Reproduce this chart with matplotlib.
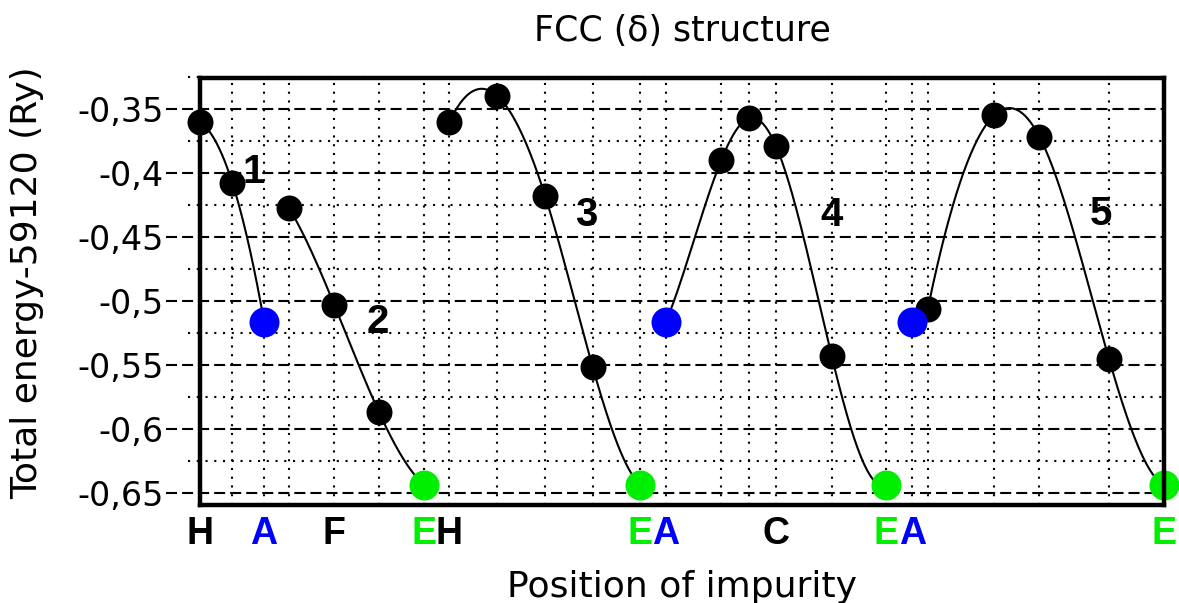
import numpy as np
import matplotlib
matplotlib.use("Agg")
import matplotlib.pyplot as plt
from matplotlib.transforms import ScaledTranslation

# position along the path (arbitrary units) and total energy (Ry, offset by 59120)
c1_x = [0.0, 1.34, 2.66]
c1_y = [-0.3602, -0.4074, -0.5162]
c2_x = [3.70, 5.57, 7.43, 9.31]
c2_y = [-0.4275, -0.5029, -0.5871, -0.6440]
c3_x = [10.34, 12.34, 14.32, 16.29, 18.27]
c3_y = [-0.3602, -0.3396, -0.4178, -0.5514, -0.6440]
c4_x = [19.34, 21.63, 22.78, 23.90, 26.21, 28.46]
c4_y = [-0.5162, -0.3897, -0.3570, -0.3787, -0.5430, -0.6440]
c5_x = [30.20, 32.96, 34.83, 37.72, 40.0]
c5_y = [-0.5060, -0.3545, -0.3714, -0.5454, -0.6440]

# special positions: A (blue) and E (green)
a_x = [2.66, 19.34, 29.56]
a_y = [-0.5162, -0.5162, -0.5162]
e_x = [9.31, 18.27, 28.46, 40.0]
e_y = [-0.6440, -0.6440, -0.6440, -0.6440]

# x axis labels
tick_pos = [0.0, 2.66, 5.57, 9.31, 10.34, 18.27, 19.34, 23.90, 28.46, 29.56, 40.0]
tick_lab = ["H", "A", "F", "E", "H", "E", "A", "C", "E", "A", "E"]
tick_col = ["black", "blue", "black", "#00ee00", "black", "#00ee00", "blue",
            "black", "#00ee00", "blue", "#00ee00"]

ytick_pos = [-0.35, -0.4, -0.45, -0.5, -0.55, -0.6, -0.65]
ytick_lab = ["-0,35", "-0,4", "-0,45", "-0,5", "-0,55", "-0,6", "-0,65"]
yminor_pos = [-0.325, -0.375, -0.425, -0.475, -0.525, -0.575, -0.625]

# segment labels
seg_lab = ["1", "2", "3", "4", "5"]
seg_x = [2.21, 7.37, 16.02, 26.21, 37.38]
seg_y = [-0.3988, -0.5162, -0.4328, -0.4328, -0.4317]

GREEN = "#00ee00"


def spline(x, y, n=200):
    # cubic spline (not-a-knot ends) through the points, for the smooth line
    x = np.asarray(x, float)
    y = np.asarray(y, float)
    m = len(x)
    h = np.diff(x)
    A = np.zeros((m, m))
    r = np.zeros(m)
    for i in range(1, m - 1):
        A[i, i - 1] = h[i - 1]
        A[i, i] = 2 * (h[i - 1] + h[i])
        A[i, i + 1] = h[i]
        r[i] = 6 * ((y[i + 1] - y[i]) / h[i] - (y[i] - y[i - 1]) / h[i - 1])
    if m == 3:
        A[0, :] = [1, -1, 0]
        A[2, :] = [0, 1, -1]
    else:
        A[0, 0:3] = [h[1], -(h[0] + h[1]), h[0]]
        A[-1, -3:] = [h[-1], -(h[-2] + h[-1]), h[-2]]
    M = np.linalg.solve(A, r)
    xs = np.linspace(x[0], x[-1], n)
    k = np.clip(np.searchsorted(x, xs) - 1, 0, m - 2)
    t0 = x[k + 1] - xs
    t1 = xs - x[k]
    hk = h[k]
    ys = (M[k] * t0**3 + M[k + 1] * t1**3) / (6 * hk) \
        + (y[k] / hk - M[k] * hk / 6) * t0 + (y[k + 1] / hk - M[k + 1] * hk / 6) * t1
    return xs, ys


fig = plt.figure(figsize=(11.79, 6.03), dpi=100)
ax = fig.add_axes([200 / 1179, 98 / 603, 964 / 1179, 427 / 603])
ax.set_xlim(0, 40)
ax.set_ylim(-0.6596, -0.3255)

# grid: dashed at major, dotted at minor, extended a bit to the left
for yv in ytick_pos:
    ax.axhline(yv, xmin=-0.035, xmax=1, color="black", lw=1.5,
               ls=(0, (5.3, 2.4)), clip_on=False, zorder=1)
for yv in yminor_pos:
    ax.axhline(yv, xmin=-0.012, xmax=1, color="black", lw=1.5,
               ls=(0, (1, 3.2)), clip_on=False, zorder=1)

all_x = np.unique(np.concatenate([c1_x, c2_x, c3_x, c4_x, c5_x, a_x, e_x]))
for xv in all_x:
    if 0 < xv < 40:
        ax.axvline(xv, color="black", lw=1.5, ls=(0, (1, 3.2)), zorder=1)

# curves
curves = [(c1_x, c1_y), (c2_x, c2_y), (c3_x, c3_y), (c4_x, c4_y), (c5_x, c5_y)]
for cx, cy in curves:
    xs, ys = spline(cx, cy)
    ax.plot(xs, ys, color="black", lw=1.5, zorder=3, clip_on=False)
    cx = np.asarray(cx)
    cy = np.asarray(cy)
    black = ~np.isin(cx, a_x) & ~np.isin(cx, e_x)
    ax.plot(cx[black], cy[black], "o", color="black", ms=18.7, mew=0,
            zorder=4, clip_on=False)

ax.plot(a_x, a_y, "o", color="blue", ms=21.6, mew=0, zorder=5, clip_on=False)
ax.plot(e_x, e_y, "o", color=GREEN, ms=21.6, mew=0, zorder=5, clip_on=False)

for s, sx, sy in zip(seg_lab, seg_x, seg_y):
    ax.text(sx, sy, s, fontsize=29, fontweight="bold", family="Liberation Sans",
            ha="center", va="center", zorder=6)

# axes styling
for sp in ax.spines.values():
    sp.set_linewidth(3.2)
    sp.set_zorder(6)

ax.set_xticks(tick_pos)
ax.set_xticklabels(tick_lab, fontsize=27, fontweight="bold", family="Liberation Sans")
labels = ax.get_xticklabels()
for i, (lab, c) in enumerate(zip(labels, tick_col)):
    lab.set_color(c)
    # nudge labels of neighbouring ticks apart a little (EH, EA pairs)
    if i + 1 < len(tick_pos) and tick_pos[i + 1] - tick_pos[i] < 1.5:
        lab.set_transform(lab.get_transform() + ScaledTranslation(-1.5 / 100, 0, fig.dpi_scale_trans))
    elif i > 0 and tick_pos[i] - tick_pos[i - 1] < 1.5:
        lab.set_transform(lab.get_transform() + ScaledTranslation(2.5 / 100, 0, fig.dpi_scale_trans))
ax.set_yticks(ytick_pos)
ax.set_yticklabels(ytick_lab, fontsize=24, family="DejaVu Sans")
ax.tick_params(axis="x", length=0, pad=8)
ax.tick_params(axis="y", length=0, pad=26)

ax.set_title("FCC (\u03b4) structure", fontsize=25, family="DejaVu Sans", pad=27)
ax.set_xlabel("Position of impurity", fontsize=26, family="DejaVu Sans")
ax.xaxis.label.set_va("baseline")
ax.xaxis.set_label_coords(0.5, -0.2155)
ax.set_ylabel("Total energy-59120 (Ry)", fontsize=26, family="DejaVu Sans")
ax.yaxis.label.set_va("center")
ax.yaxis.set_label_coords(-0.179, 0.52)

fig.savefig("out.png", dpi=100)
